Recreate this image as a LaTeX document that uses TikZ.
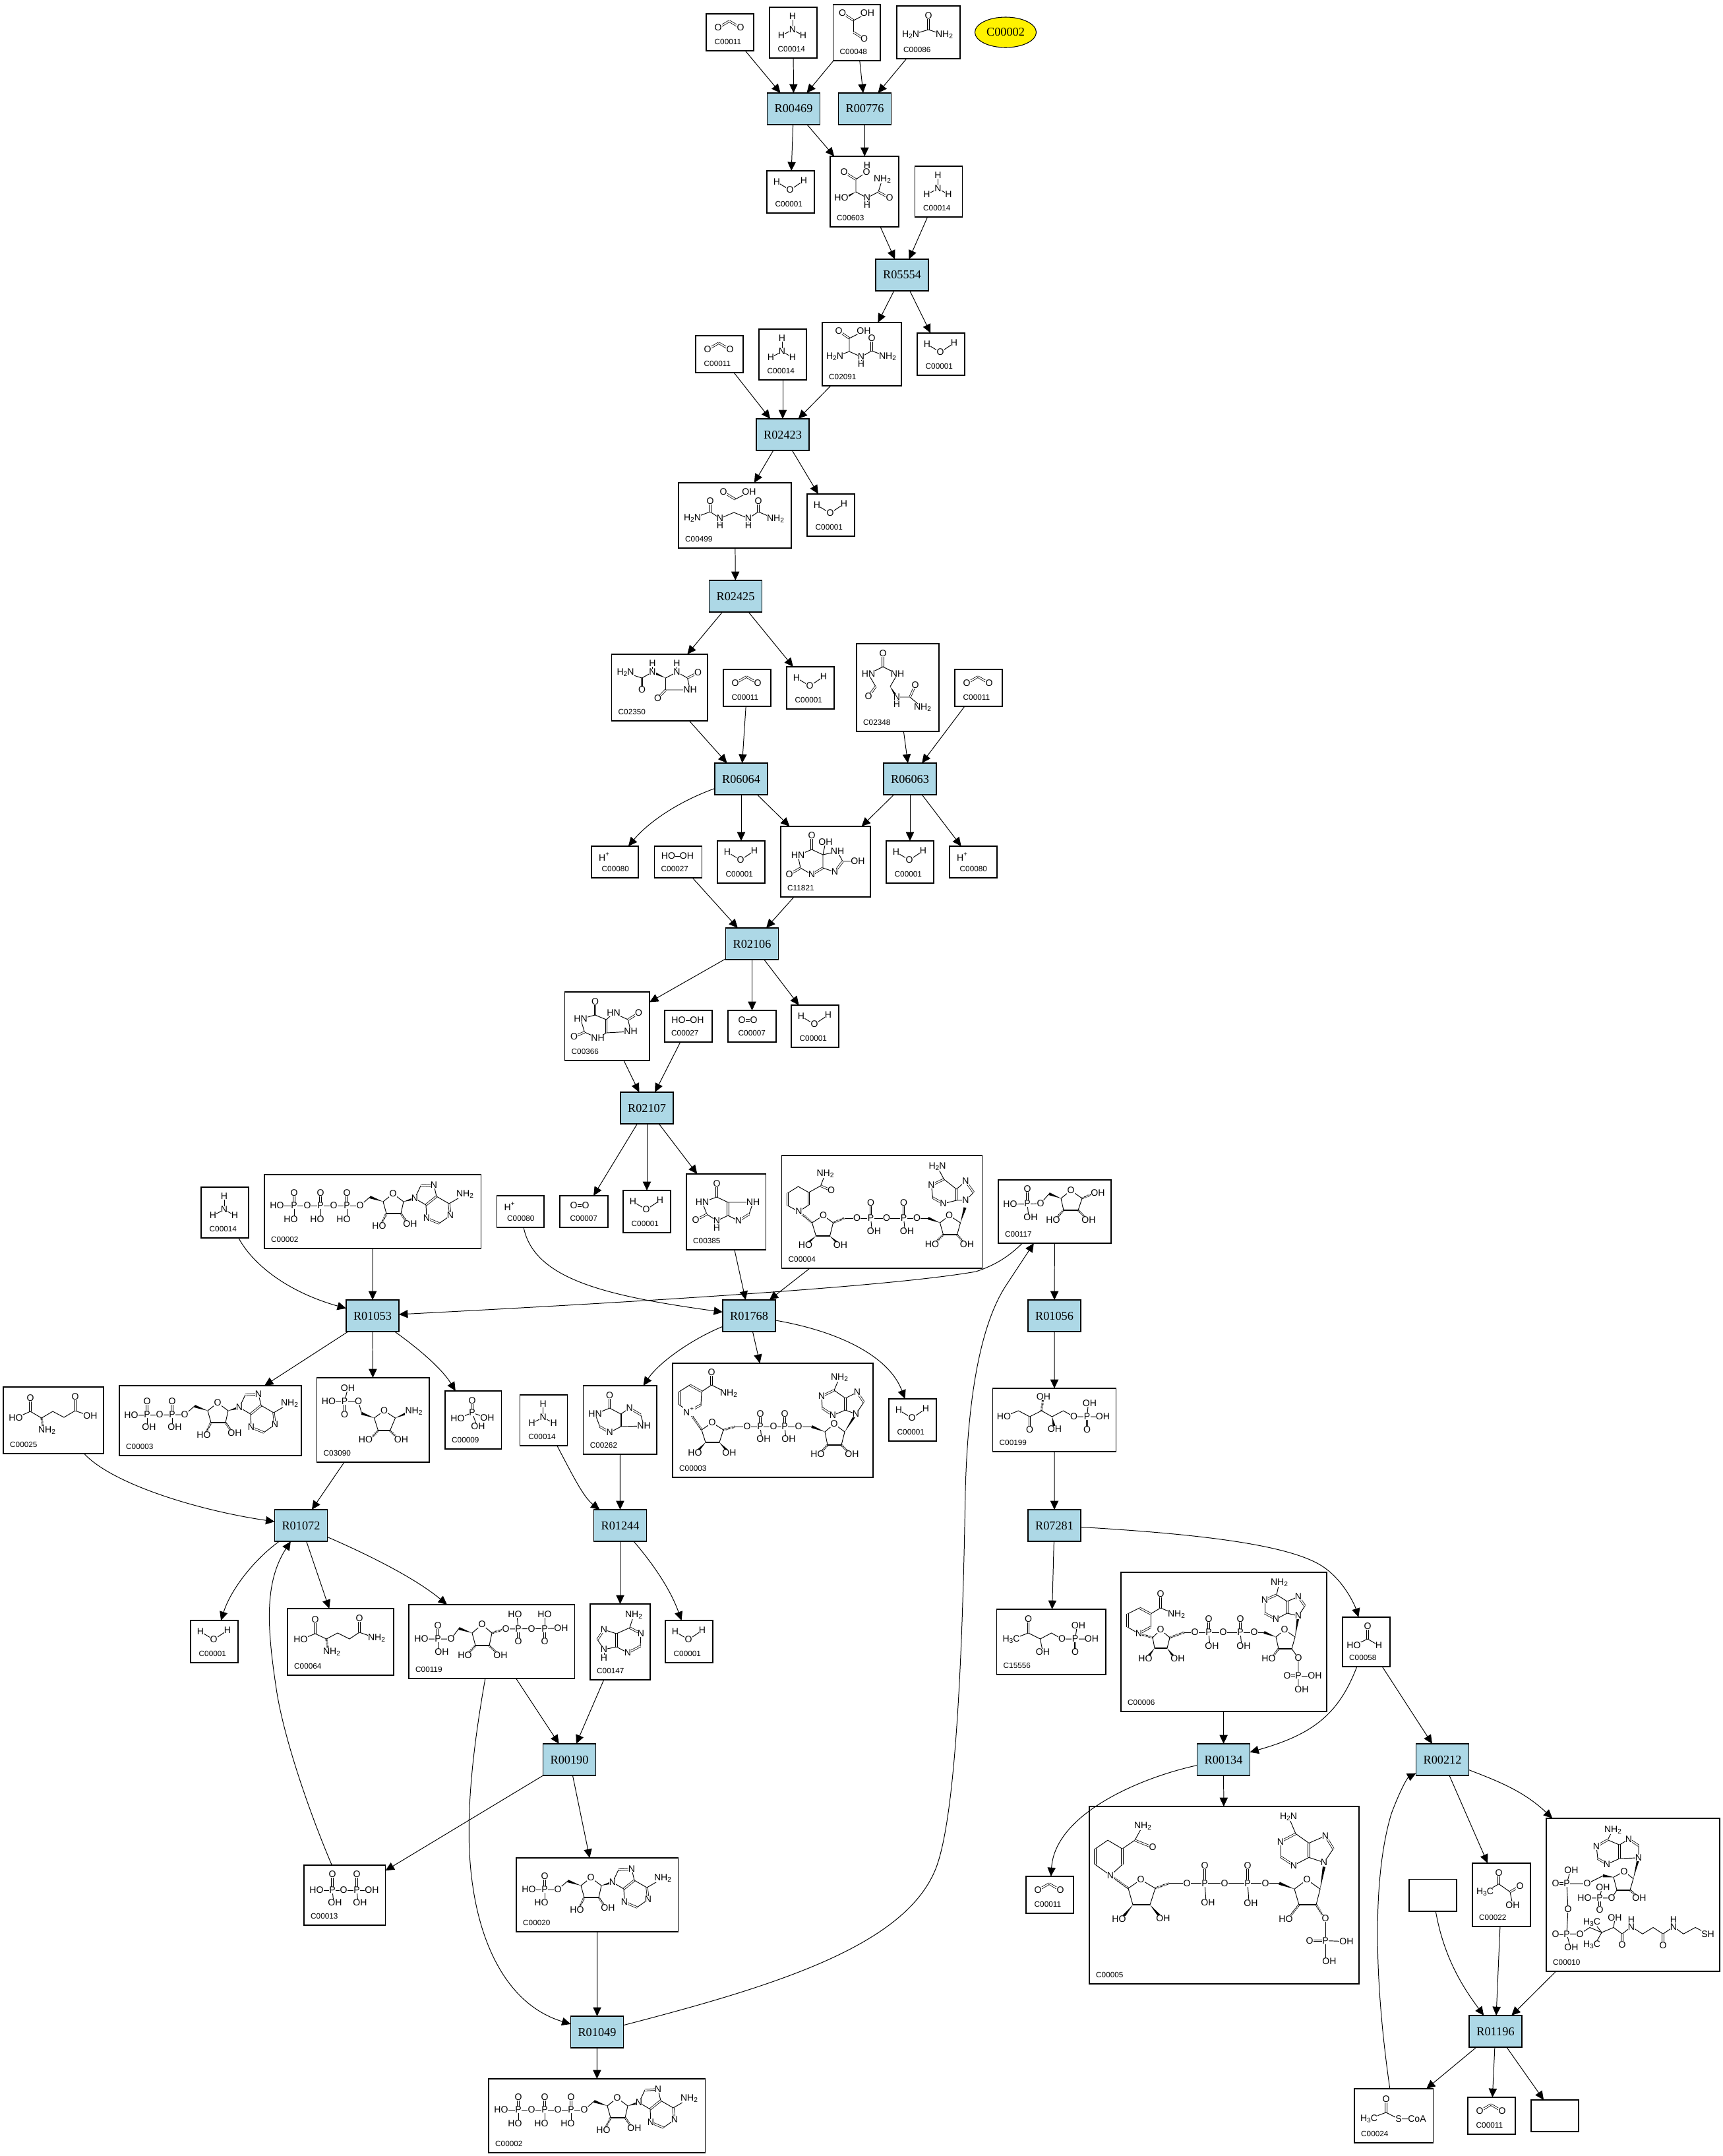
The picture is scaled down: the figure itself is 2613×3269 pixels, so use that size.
\documentclass[tikz,border=0pt]{standalone}
\usepackage{fontspec}
\setmainfont{Liberation Serif}
\newfontfamily\atomfamily{Liberation Sans}
\usetikzlibrary{arrows.meta, calc, shapes.geometric}

\newcommand{\atomsub}[1]{\raisebox{-0.6pt}{\fontsize{2.9}{3}\selectfont #1}}
\newcommand{\wdg}[2]{\fill (#1) -- ($(#2)!0.6pt!90:(#1)$) -- ($(#2)!0.6pt!-90:(#1)$) -- cycle;}
% box with its compound number
\newcommand{\compound}[7][9.5]{%
  \node[compound, minimum width={(#5-#3)*0.01cm}, minimum height={(#6-#4)*0.01cm}] (#2) at ({(#3+#5)/2},{(#4+#6)/2}) {};
  \node[cid] (#2-id) at ({#3+#1},{#6-10}) {#7};}
% structure drawing: name, origin, bonds, atoms
\newcommand{\mol}[5][]{%
  \begin{scope}[shift={#3}, #1]
    #4
    \foreach \ax/\ay/\atxt [count=\k] in {#5}
      \node[atom] (#2-\k) at (\ax,\ay) {\atxt};
  \end{scope}}
\newcommand{\waterbox}[3]{%
  \compound[12]{#1}{#2}{#3}{#2+72}{#3+64}{C00001}
  \mol{#1-m}{(#1.north west)}{\draw[bond] (15,17)--(35,29)--(56,15);}{15/17/H, 35/29/O, 56/15/H}}
\newcommand{\cotwobox}[4][56]{%
  \compound[12]{#2}{#3}{#4}{#3+72}{#4+#1}{C00011}
  \mol{#2-m}{(#2.north west)}{\draw[dbl] (18,21)--(35,11); \draw[dbl] (35,11)--(52,21);}{18/21/O, 52/21/O}}
\newcommand{\ammoniabox}[3]{%
  \compound[12]{#1}{#2}{#3}{#2+72}{#3+77}{C00014}
  \mol{#1-m}{(#1.north west)}{\draw[bond] (35,14)--(35,34); \draw[bond] (18,43)--(35,34)--(51,43);}{35/14/H, 35/34/N, 18/43/H, 51/43/H}}
\newcommand{\protonbox}[4]{%
  \compound[15]{#1}{#2}{#3}{#2+#4}{#3+48}{C00080}
  \mol{#1-m}{(#1.north west)}{}{20/16/H\textsuperscript{+}}}
\newcommand{\peroxidebox}[3]{%
  \compound{#1}{#2}{#3}{#2+72}{#3+48}{C00027}
  \mol{#1-m}{(#1.north west)}{\draw[bond] (21,15)--(49,15);}{21/15/HO, 49/15/OH}}
\newcommand{\oxygenbox}[3]{%
  \compound[15]{#1}{#2}{#3}{#2+73}{#3+48}{C00007}
  \mol{#1-m}{(#1.north west)}{\draw[dbl] (21,15)--(39,15);}{21/15/O, 39/15/O}}
% ribose and adenine, origin on the 5' oxygen
\newcommand{\adenosine}[2]{%
  \mol{#1}{#2}{
    \draw[bond] (0,0)--(15,-13);
    \wdg{35,-6}{15,-13}
    \draw[bond] (35,-6)--(50,-18)--(66,-6)--(62,12);
    \draw[bond] (40,12)--(35,-6);
    \draw[heavy] (40,12)--(62,12);
    \draw[hash] (40,12)--(32,28);
    \draw[hash] (62,12)--(72,26);
    \wdg{66,-6}{83,-11}
    \draw[bond] (83,-11)--(92,-30);
    \draw[dbl] (92,-30)--(112,-31);
    \draw[bond] (112,-31)--(116,-14);
    \draw[dbl] (116,-14)--(100,-1);
    \draw[bond] (100,-1)--(83,-11);
    \draw[bond] (116,-14)--(135,-3);
    \draw[dbl] (135,-3)--(137,15);
    \draw[bond] (137,15)--(120,27);
    \draw[dbl] (120,27)--(101,19);
    \draw[bond] (101,19)--(100,-1);
    \draw[bond] (135,-3)--(159,-17);
  }{0/0/O, 50/-18/O, 83/-11/N, 112/-31/N, 101/19/N, 137/15/N, 159/-17/NH\atomsub{2}, 29/31/HO, 76/28/OH}}
% triphosphate adenosine
\newcommand{\atpbox}[3]{%
  \compound{#1}{#2}{#3}{#2+328.5}{#3+112}{C00002}
  \mol{#1-p}{(#1.north west)}{
    \draw[bond] (19,47)--(145,47);
    \draw[dbl] (45,47)--(45,28); \draw[dbl] (85,47)--(85,28); \draw[dbl] (125,47)--(125,28);
    \draw[bond] (45,47)--(45,68); \draw[bond] (85,47)--(85,68); \draw[bond] (125,47)--(125,68);
  }{19/47/HO, 45/47/P, 65/47/O, 85/47/P, 105/47/O, 125/47/P, 45/28/O, 85/28/O, 125/28/O, 40/68/HO, 80/68/HO, 120/68/HO}
  \adenosine{#1-a}{($(#1.north west)+(145,47)$)}}

\begin{document}
\begin{tikzpicture}[x=0.01cm, y=-0.01cm,
    reaction/.style={draw, fill=lightblue, line width=0.32pt, minimum width=0.8cm, minimum height=0.48cm, inner sep=0pt, outer sep=0pt, font=\fontsize{5.2}{6}\selectfont},
    compound/.style={draw, line width=0.32pt, inner sep=0pt, outer sep=0pt},
    cid/.style={anchor=base west, inner sep=0pt, font=\atomfamily\fontsize{3.35}{4}\selectfont},
    atom/.style={fill=white, inner sep=0.1pt, font=\atomfamily\fontsize{4}{4.4}\selectfont},
    bond/.style={line width=0.27pt},
    heavy/.style={line width=0.6pt},
    dbl/.style={line width=0.22pt, double, double distance=0.5pt},
    hash/.style={line width=0.9pt, dash pattern=on 0.22pt off 0.32pt},
    link/.style={line width=0.28pt, -{Triangle[length=3.8pt, width=3.5pt]}}]
  \definecolor{lightblue}{HTML}{ADD8E6}
  \useasboundingbox (0,0) rectangle (2613,3269);

  % Reactions
  \node[reaction] (r00469) at (1203.5,165) {R00469};
  \node[reaction] (r00776) at (1311.5,165) {R00776};
  \node[reaction] (r05554) at (1368,417) {R05554};
  \node[reaction] (r02423) at (1187,659) {R02423};
  \node[reaction] (r02425) at (1115.5,904) {R02425};
  \node[reaction] (r06064) at (1124,1181) {R06064};
  \node[reaction] (r06063) at (1380,1181) {R06063};
  \node[reaction] (r02106) at (1140.5,1431) {R02106};
  \node[reaction] (r02107) at (981,1680) {R02107};
  \node[reaction] (r01053) at (565,1995) {R01053};
  \node[reaction] (r01768) at (1136,1995) {R01768};
  \node[reaction] (r01056) at (1599,1995) {R01056};
  \node[reaction] (r07281) at (1599,2313) {R07281};
  \node[reaction] (r01072) at (456.5,2313) {R01072};
  \node[reaction] (r01244) at (940.5,2313) {R01244};
  \node[reaction] (r00190) at (863.5,2668) {R00190};
  \node[reaction] (r00134) at (1855.5,2668) {R00134};
  \node[reaction] (r00212) at (2187.5,2668) {R00212};
  \node[reaction] (r01049) at (905.5,3081) {R01049};
  \node[reaction] (r01196) at (2268,3080) {R01196};

  % Start compound
  \node[draw, fill=yellow, ellipse, line width=0.3pt, minimum width=0.93cm, minimum height=0.46cm, inner sep=0pt, font=\fontsize{5.2}{6}\selectfont] (c00002top) at (1525,49) {C00002};

  % Small compounds that come back
  \waterbox{c00001a}{1163}{259}
  \waterbox{c00001b}{1391}{505}
  \waterbox{c00001c}{1224}{749}
  \waterbox{c00001d}{1193}{1011}
  \waterbox{c00001e}{1088}{1275}
  \waterbox{c00001f}{1344}{1275}
  \waterbox{c00001g}{1200}{1524}
  \waterbox{c00001h}{945}{1805}
  \waterbox{c00001i}{1348}{2121}
  \waterbox{c00001j}{1009}{2457}
  \waterbox{c00001k}{289}{2457}
  \cotwobox{c00011a}{1071}{21}
  \cotwobox{c00011b}{1055}{509}
  \cotwobox{c00011c}{1097}{1015}
  \cotwobox{c00011d}{1448}{1015}
  \cotwobox{c00011e}{1556}{2845}
  \cotwobox{c00011f}{2226}{3180}
  \ammoniabox{c00014a}{1167}{11}
  \ammoniabox{c00014b}{1387.5}{252}
  \ammoniabox{c00014c}{1151}{499}
  \ammoniabox{c00014d}{305}{1800}
  \ammoniabox{c00014e}{788.7}{2115}
  \protonbox{c00080a}{897}{1283}{71}
  \protonbox{c00080b}{1440}{1283}{72}
  \protonbox{c00080c}{753.5}{1813}{71.5}
  \peroxidebox{c00027a}{992.5}{1283}
  \peroxidebox{c00027b}{1008}{1532}
  \oxygenbox{c00007a}{1104}{1532}
  \oxygenbox{c00007b}{849}{1813}

  % Glyoxylate, urea
  \compound{c00048}{1263.5}{7}{1335}{92}{C00048}
  \mol{c00048-m}{(c00048.north west)}{
    \draw[dbl] (14,13)--(31,24);
    \draw[bond] (52,13)--(31,24)--(31,42);
    \draw[dbl] (31,42)--(47,52);
  }{14/13/O, 52/13/OH, 47/52/O}
  \compound{c00086}{1360}{9}{1456}{89}{C00086}
  \mol{c00086-m}{(c00086.north west)}{
    \draw[dbl] (48,15)--(48,36);
    \draw[bond] (21,44)--(48,36)--(72,44);
  }{48/15/O, 21/44/H\atomsub{2}N, 72/44/NH\atomsub{2}}

  % Ureidoglycolate
  \compound{c00603}{1259}{237}{1363}{344}{C00603}
  \mol{c00603-m}{(c00603.north west)}{
    \draw[bond] (56,14)--(55,24)--(39,35)--(39,54)--(56,63)--(73,54)--(79,35);
    \draw[dbl] (21,24)--(39,35);
    \draw[dbl] (73,54)--(90,63);
    \draw[bond] (56,63)--(56,74);
    \wdg{39,54}{22,63}
  }{56/14/H, 55/24/O, 21/24/O, 79/35/NH\atomsub{2}, 17/63/HO, 56/63/N, 56/74/H, 90/63/O}

  % Ureidoglycine
  \compound{c02091}{1247}{489}{1367}{585}{C02091}
  \mol{c02091-m}{(c02091.north west)}{
    \draw[dbl] (25,13)--(41,24);
    \draw[bond] (63,13)--(41,24)--(41,44)--(19,52);
    \draw[bond] (41,44)--(59,52)--(75,43)--(99,52);
    \draw[bond] (59,52)--(59,63);
    \draw[dbl] (75,43)--(75,24);
  }{25/13/O, 63/13/OH, 19/52/H\atomsub{2}N, 59/52/N, 59/63/H, 75/24/O, 99/52/NH\atomsub{2}}

  % Allantoate
  \compound{c00499}{1029}{732}{1200}{831}{C00499}
  \mol{c00499-m}{(c00499.north west)}{
    \draw[dbl] (68,14)--(86,25);
    \draw[bond] (86,25)--(107,14);
    \draw[bond] (21,54)--(48,44)--(63,54)--(84,45)--(106,54)--(121,44)--(147,55);
    \draw[dbl] (48,44)--(48,28);
    \draw[dbl] (121,44)--(121,28);
    \draw[bond] (63,54)--(63,65);
    \draw[bond] (106,54)--(106,65);
  }{68/14/O, 107/14/OH, 48/28/O, 121/28/O, 21/54/H\atomsub{2}N, 63/54/N, 63/65/H, 106/54/N, 106/65/H, 147/55/NH\atomsub{2}}

  % Allantoin
  \compound{c02350}{927.5}{992}{1073}{1093}{C02350}
  \mol{c02350-m}{(c02350.north west)}{
    \draw[bond] (21,28)--(46,36)--(62,27);
    \draw[dbl] (46,36)--(46,54);
    \draw[bond] (62,27)--(62,14);
    \wdg{82,36}{62,27}
    \draw[bond] (82,36)--(99,27)--(115,36)--(119,54)--(82,54)--cycle;
    \draw[bond] (99,27)--(99,14);
    \draw[dbl] (115,36)--(131,28);
    \draw[dbl] (82,54)--(70,67);
  }{21/28/H\atomsub{2}N, 46/54/O, 62/27/N, 62/14/H, 99/27/N, 99/14/H, 131/28/O, 119/54/NH, 70/67/O}

  \compound{c02348}{1299}{976}{1424}{1109}{C02348}
  \mol{c02348-m}{(c02348.north west)}{
    \draw[dbl] (40,15)--(40,35);
    \draw[bond] (29,65)--(18,46)--(40,35)--(62,46)--(51,65);
    \draw[dbl] (29,65)--(18,80);
    \wdg{51,65}{61,81}
    \draw[bond] (61,81)--(61,92);
    \draw[bond] (61,81)--(81,81)--(100,97);
    \draw[dbl] (81,81)--(89,63);
  }{40/15/O, 18/46/HN, 62/46/NH, 18/80/O, 61/81/N, 61/92/H, 89/63/O, 100/97/NH\atomsub{2}}

  % Hydroxyisourate region
  \compound{c11821}{1184}{1253}{1320}{1360}{C11821}
  \mol{c11821-m}{(c11821.north west)}{
    \draw[dbl] (47,14)--(47,35);
    \draw[bond] (47,35)--(26,44)--(30,63)--(47,73);
    \draw[dbl] (47,73)--(64,63);
    \draw[bond] (64,63)--(64,43)--(47,35);
    \draw[dbl] (30,63)--(13,73);
    \draw[bond] (64,43)--(68,24);
    \draw[bond] (64,43)--(86,38)--(94,53)--(117,53);
    \draw[dbl] (94,53)--(82,69);
    \draw[bond] (82,69)--(64,63);
  }{47/14/O, 26/44/HN, 13/73/O, 47/73/N, 68/24/OH, 86/38/NH, 117/53/OH, 82/69/N}

  \compound{c00366}{856.5}{1504}{985}{1608}{C00366}
  \mol{c00366-m}{(c00366.north west)}{
    \draw[dbl] (46,15)--(46,35);
    \draw[bond] (46,35)--(24,41)--(30,61)--(50,70)--(63,62);
    \draw[dbl] (63,62)--(63,42);
    \draw[bond] (63,42)--(46,35);
    \draw[dbl] (30,61)--(14,68);
    \draw[bond] (63,42)--(74,32)--(96,42)--(100,60)--(63,62);
    \draw[dbl] (96,42)--(112,32);
  }{46/15/O, 24/41/HN, 14/68/O, 50/70/NH, 74/32/HN, 112/32/O, 100/60/NH}

  \compound{c00385}{1041}{1780}{1161.4}{1895}{C00385}
  \mol{c00385-m}{(c00385.north west)}{
    \draw[dbl] (46,15)--(46,35);
    \draw[bond] (46,35)--(24,43)--(31,61)--(46,71)--(63,63);
    \draw[dbl] (63,63)--(63,43);
    \draw[bond] (63,43)--(46,35);
    \draw[dbl] (31,61)--(14,70);
    \draw[bond] (46,71)--(46,82);
    \draw[bond] (63,43)--(101,43)--(95,61);
    \draw[dbl] (95,61)--(79,71);
    \draw[bond] (79,71)--(63,63);
  }{46/15/O, 24/43/HN, 14/70/O, 46/71/N, 46/82/H, 101/43/NH, 79/71/N}

  % ATP
  \atpbox{c00002a}{401}{1781}
  \atpbox{c00002b}{741}{3152}

  % NADH
  \compound{c00004}{1185.5}{1752}{1489.5}{1923}{C00004}
  \mol{c00004-m}{(c00004.north west)}{
    \draw[bond] (66,28)--(59,46)--(41,56)--(25,47)--(9,57);
    \draw[dbl] (59,46)--(75,53);
    \draw[dbl] (9,57)--(9,76);
    \draw[bond] (9,76)--(26,85)--(41,75);
    \draw[dbl] (41,75)--(41,56);
    \draw[hash] (26,85)--(46,102);
    \draw[bond] (46,102)--(63,91)--(78,102)--(73,122);
    \draw[bond] (52,122)--(46,102);
    \draw[heavy] (52,122)--(73,122);
    \wdg{52,122}{38,134}
    \wdg{73,122}{86,134}
    \draw[hash] (78,102)--(95,95);
    \draw[bond] (95,95)--(222,95);
    \draw[dbl] (135,95)--(135,72);
    \draw[dbl] (185,95)--(185,72);
    \draw[bond] (135,95)--(137,115);
    \draw[bond] (185,95)--(187,115);
    \wdg{240,102}{222,95}
    \draw[bond] (240,102)--(254,91)--(271,102)--(266,120);
    \draw[bond] (245,120)--(240,102);
    \draw[heavy] (245,120)--(266,120);
    \draw[hash] (245,120)--(232,133);
    \draw[hash] (266,120)--(277,133);
    \wdg{271,102}{278,79}
    \draw[bond] (279,68)--(291,56);
    \draw[dbl] (291,56)--(279,39);
    \draw[bond] (279,39)--(265,51);
    \draw[dbl] (265,51)--(265,68);
    \draw[bond] (279,68)--(265,68)--(245,73);
    \draw[dbl] (245,73)--(229,64);
    \draw[bond] (229,64)--(227,45);
    \draw[dbl] (227,45)--(246,36);
    \draw[bond] (246,36)--(265,51);
    \draw[bond] (246,36)--(236,17);
  }{66/28/NH\atomsub{2}, 75/53/O, 26/85/N, 63/91/O, 36/136/HO, 89/136/OH, 114/95/O, 135/95/P, 135/72/O, 140/115/OH, 159/95/O, 185/95/P, 185/72/O, 190/115/OH, 205/95/O, 254/91/O, 228/135/HO, 281/135/OH, 279/68/N, 279/39/N, 245/73/N, 227/45/N, 236/17/H\atomsub{2}N}

  % Ribose 5-phosphate
  \compound{c00117}{1514}{1789}{1685}{1885}{C00117}
  \mol{c00117-m}{(c00117.north west)}{
    \draw[bond] (18,37)--(64,36)--(77,21);
    \draw[dbl] (44,36)--(44,14);
    \draw[bond] (44,36)--(46,57);
    \wdg{95,28}{77,21}
    \draw[bond] (95,28)--(110,16)--(127,28)--(121,46);
    \draw[bond] (99,46)--(95,28);
    \draw[heavy] (99,46)--(121,46);
    \draw[hash] (99,46)--(88,58);
    \draw[hash] (121,46)--(133,58);
    \draw[hash] (127,28)--(141,22);
  }{44/14/O, 18/37/HO, 44/36/P, 49/57/OH, 64/36/O, 110/16/O, 83/61/HO, 137/61/OH, 151/20/OH}

  % Glutamate and glutamine
  \compound{c00025}{5}{2103}{157}{2204}{C00025}
  \mol{c00025-m}{(c00025.north west)}{
    \draw[dbl] (41,17)--(41,37);
    \draw[bond] (19,47)--(41,37)--(58,47)--(75,37)--(92,46)--(109,36)--(132,44);
    \draw[dbl] (109,36)--(109,15);
    \draw[hash] (58,47)--(60,60);
  }{41/17/O, 19/47/HO, 66/66/NH\atomsub{2}, 109/15/O, 132/44/OH}
  \compound{c00064}{436}{2439}{597}{2540}{C00064}
  \mol{c00064-m}{(c00064.north west)}{
    \draw[dbl] (42,17)--(42,38);
    \draw[bond] (20,47)--(42,38)--(59,46)--(76,37)--(94,46)--(109,36)--(135,45);
    \draw[dbl] (109,36)--(109,15);
    \draw[hash] (59,46)--(61,60);
  }{42/17/O, 20/47/HO, 67/66/NH\atomsub{2}, 109/15/O, 135/45/NH\atomsub{2}}

  % ADP
  \compound{c00003s}{181}{2101}{457}{2207}{C00003}
  \mol{c00003s-p}{(c00003s.north west)}{
    \draw[bond] (18,45)--(99,44);
    \draw[dbl] (42,44)--(42,24);
    \draw[dbl] (80,44)--(80,24);
    \draw[bond] (42,44)--(42,63);
    \draw[bond] (80,44)--(80,63);
  }{18/45/HO, 42/44/P, 61/44/O, 80/44/P, 42/24/O, 80/24/O, 45/63/OH, 84/63/OH}
  \adenosine{c00003s-a}{($(c00003s.north west)+(99,44)$)}

  % Aminoimidazole type ribotide
  \compound{c03090}{480.5}{2089}{651}{2217}{C03090}
  \mol{c03090-m}{(c03090.north west)}{
    \draw[bond] (47,16)--(42,36);
    \draw[bond] (18,36)--(63,36)--(68,54);
    \draw[dbl] (42,36)--(42,56);
    \wdg{87,61}{68,54}
    \draw[bond] (87,61)--(102,50)--(119,61)--(111,80);
    \draw[bond] (93,80)--(87,61);
    \draw[heavy] (93,80)--(111,80);
    \draw[hash] (93,80)--(82,92);
    \draw[hash] (111,80)--(122,92);
    \wdg{119,61}{138,53}
  }{47/16/OH, 42/36/P, 18/36/HO, 42/56/O, 63/36/O, 102/50/O, 74/94/HO, 128/94/OH, 147/51/NH\atomsub{2}}

  \compound{c00009}{675}{2109}{760.6}{2197}{C00009}
  \mol{c00009-m}{(c00009.north west)}{
    \draw[dbl] (41,15)--(41,33);
    \draw[bond] (19,42)--(41,33)--(64,41);
    \draw[bond] (41,33)--(48,52);
  }{41/15/O, 41/33/P, 19/42/HO, 64/41/OH, 50/54/OH}

  \compound{c00262}{884.6}{2101}{996}{2205}{C00262}
  \mol{c00262-m}{(c00262.north west)}{
    \draw[dbl] (40,15)--(40,34);
    \draw[bond] (40,34)--(18,43)--(25,62);
    \draw[dbl] (25,62)--(40,71);
    \draw[bond] (40,71)--(57,62);
    \draw[dbl] (57,62)--(57,43);
    \draw[bond] (57,43)--(40,34);
    \draw[bond] (57,43)--(70,34);
    \draw[dbl] (70,34)--(87,44);
    \draw[bond] (87,44)--(92,61)--(57,62);
  }{40/15/O, 18/43/HN, 40/71/N, 70/34/N, 92/61/NH}

  % NAD+
  \compound{c00003b}{1020}{2067}{1324}{2240}{C00003}
  \mol{c00003b-m}{(c00003b.north west)}{
    \draw[dbl] (59,14)--(59,33);
    \draw[bond] (85,46)--(59,33)--(44,43);
    \draw[dbl] (44,43)--(26,33);
    \draw[bond] (26,33)--(10,43);
    \draw[dbl] (10,43)--(10,63);
    \draw[bond] (10,63)--(25,73);
    \draw[dbl] (25,73)--(43,63);
    \draw[bond] (43,63)--(44,43);
    \draw[hash] (25,73)--(44,101);
    \draw[bond] (44,101)--(60,90)--(77,101)--(71,120);
    \draw[bond] (50,120)--(44,101);
    \draw[heavy] (50,120)--(71,120);
    \wdg{50,120}{38,133}
    \wdg{71,120}{83,133}
    \draw[hash] (77,101)--(95,96);
    \draw[bond] (95,96)--(211,96);
    \draw[dbl] (133,96)--(133,77);
    \draw[dbl] (170,96)--(170,77);
    \draw[bond] (133,96)--(135,115);
    \draw[bond] (170,96)--(172,115);
    \wdg{231,104}{211,96}
    \draw[bond] (231,104)--(245,92)--(261,104)--(256,124);
    \draw[bond] (235,124)--(231,104);
    \draw[heavy] (235,124)--(256,124);
    \draw[hash] (235,124)--(224,136);
    \draw[hash] (256,124)--(268,136);
    \wdg{261,104}{278,77}
    \draw[bond] (278,77)--(290,59);
    \draw[dbl] (290,59)--(280,44);
    \draw[bond] (280,44)--(262,53);
    \draw[dbl] (262,53)--(262,71);
    \draw[bond] (278,77)--(262,71)--(243,79);
    \draw[dbl] (243,79)--(227,68);
    \draw[bond] (227,68)--(226,50);
    \draw[dbl] (226,50)--(245,41);
    \draw[bond] (245,41)--(262,53);
    \draw[bond] (245,41)--(253,22);
  }{59/14/O, 85/46/NH\atomsub{2}, 25/73/N\textsuperscript{+}, 60/90/O, 34/136/HO, 86/136/OH, 113/96/O, 133/96/P, 133/77/O, 138/115/OH, 153/96/O, 170/96/P, 170/77/O, 176/115/OH, 191/96/O, 245/92/O, 220/138/HO, 272/138/OH, 278/77/N, 280/44/N, 243/79/N, 226/50/N, 253/22/NH\atomsub{2}}

  % Ribulose 5-phosphate
  \compound{c00199}{1505.5}{2105}{1692.6}{2201}{C00199}
  \mol{c00199-m}{(c00199.north west)}{
    \draw[bond] (17,43)--(39,34)--(56,43)--(74,34)--(90,43)--(107,34)--(123,43)--(167,43);
    \draw[dbl] (56,43)--(56,63);
    \draw[hash] (74,34)--(76,18);
    \wdg{90,43}{93,57}
    \draw[bond] (143,43)--(145,23);
    \draw[dbl] (143,43)--(143,63);
  }{17/43/HO, 77/13/OH, 56/63/O, 94/62/OH, 123/43/O, 143/43/P, 147/23/OH, 167/43/OH, 143/63/O}

  % PRPP and relatives
  \compound{c00119}{620}{2433}{871.6}{2545}{C00119}
  \mol{c00119-m}{(c00119.north west)}{
    \draw[dbl] (44,32)--(44,52);
    \draw[bond] (19,52)--(64,52)--(76,36);
    \draw[bond] (44,52)--(46,72);
    \wdg{96,43}{76,36}
    \draw[bond] (96,43)--(111,30)--(126,43)--(122,62);
    \draw[bond] (101,62)--(96,43);
    \draw[heavy] (101,62)--(122,62);
    \draw[hash] (101,62)--(90,74);
    \draw[hash] (122,62)--(134,74);
    \draw[hash] (126,43)--(142,38);
    \draw[bond] (147,37)--(231,36);
    \draw[bond] (166,37)--(164,15);
    \draw[bond] (206,37)--(206,15);
    \draw[dbl] (166,37)--(166,56);
    \draw[dbl] (206,37)--(206,56);
  }{44/32/O, 19/52/HO, 44/52/P, 50/72/OH, 64/52/O, 111/30/O, 85/77/HO, 139/77/OH, 147/37/O, 166/37/P, 161/15/HO, 166/56/O, 186/37/O, 206/37/P, 206/15/HO, 206/56/O, 231/36/OH}

  % Adenine
  \compound{c00147}{895}{2432}{986}{2547}{C00147}
  \mol{c00147-m}{(c00147.north west)}{
    \draw[bond] (66,17)--(60,36);
    \draw[dbl] (60,36)--(77,45);
    \draw[bond] (77,45)--(76,64);
    \draw[dbl] (76,64)--(57,74);
    \draw[bond] (57,74)--(40,65);
    \draw[dbl] (40,65)--(40,45);
    \draw[bond] (40,45)--(60,36);
    \draw[bond] (40,45)--(21,39);
    \draw[dbl] (21,39)--(11,54);
    \draw[bond] (11,54)--(21,69)--(40,65);
    \draw[bond] (21,69)--(21,82);
  }{66/17/NH\atomsub{2}, 77/45/N, 57/74/N, 21/39/N, 21/69/N, 21/82/H}

  % Butanone phosphate
  \compound{c15556}{1511.5}{2440}{1677}{2539}{C15556}
  \mol{c15556-m}{(c15556.north west)}{
    \draw[bond] (22,46)--(48,36)--(66,45)--(83,36)--(99,45)--(144,45);
    \draw[dbl] (48,36)--(48,15);
    \draw[bond] (66,45)--(70,65);
    \draw[bond] (119,45)--(122,25);
    \draw[dbl] (119,45)--(119,65);
  }{22/46/H\atomsub{3}C, 48/15/O, 70/65/OH, 99/45/O, 119/45/P, 124/25/OH, 144/45/OH, 119/65/O}

  % NADP+
  \compound{c00006}{1700}{2384}{2012}{2595}{C00006}
  \mol{c00006-m}{(c00006.north west)}{
    \draw[dbl] (60,33)--(60,54);
    \draw[bond] (84,64)--(60,54)--(45,63);
    \draw[dbl] (45,63)--(28,54);
    \draw[bond] (28,54)--(10,63);
    \draw[dbl] (10,63)--(10,83);
    \draw[bond] (10,83)--(27,93);
    \draw[dbl] (27,93)--(45,83);
    \draw[bond] (45,83)--(45,63);
    \draw[hash] (27,93)--(48,99);
    \draw[bond] (48,99)--(60,87)--(74,99)--(70,115);
    \draw[bond] (51,115)--(48,99);
    \draw[heavy] (51,115)--(70,115);
    \wdg{51,115}{41,128}
    \wdg{70,115}{80,128}
    \draw[hash] (74,99)--(96,91);
    \draw[bond] (96,91)--(217,91);
    \draw[dbl] (133,91)--(133,71);
    \draw[dbl] (181,91)--(181,71);
    \draw[bond] (133,91)--(135,112);
    \draw[bond] (181,91)--(183,112);
    \wdg{235,98}{217,91}
    \draw[bond] (235,98)--(248,87)--(264,98)--(259,116);
    \draw[bond] (239,116)--(235,98);
    \draw[heavy] (239,116)--(259,116);
    \draw[hash] (239,116)--(230,128);
    \draw[bond] (259,116)--(269,130)--(269,178);
    \draw[dbl] (269,157)--(252,157);
    \draw[bond] (269,157)--(294,157);
    \wdg{264,98}{269,66}
    \draw[bond] (269,66)--(279,51);
    \draw[dbl] (279,51)--(269,37);
    \draw[bond] (269,37)--(252,44);
    \draw[dbl] (252,44)--(252,62);
    \draw[bond] (269,66)--(252,62)--(235,71);
    \draw[dbl] (235,71)--(218,62);
    \draw[bond] (218,62)--(218,42);
    \draw[dbl] (218,42)--(236,34);
    \draw[bond] (236,34)--(252,44);
    \draw[bond] (236,34)--(240,16);
  }{60/33/O, 84/64/NH\atomsub{2}, 27/93/N, 60/87/O, 37/131/HO, 86/131/OH, 112/91/O, 133/91/P, 133/71/O, 138/112/OH, 155/91/O, 181/91/P, 181/71/O, 186/112/OH, 202/91/O, 248/87/O, 224/131/HO, 269/130/O, 269/157/P, 252/157/O, 294/157/OH, 274/178/OH, 269/66/N, 269/37/N, 235/71/N, 218/42/N, 240/16/NH\atomsub{2}}

  % Formate
  \compound{c00058}{2036}{2452}{2108}{2527}{C00058}
  \mol{c00058-m}{(c00058.north west)}{
    \draw[dbl] (38,14)--(38,33);
    \draw[bond] (17,43)--(38,33)--(55,43);
  }{38/14/O, 17/43/HO, 55/43/H}

  % AMP
  \compound{c00020}{783}{2817}{1028.6}{2929}{C00020}
  \mol{c00020-p}{(c00020.north west)}{
    \draw[bond] (19,48)--(63,48);
    \draw[dbl] (43,48)--(43,28);
    \draw[bond] (43,48)--(43,66);
  }{19/48/HO, 43/48/P, 43/28/O, 38/68/HO}
  \adenosine{c00020-a}{($(c00020.north west)+(63,48)$)}

  % Diphosphate
  \compound{c00013}{461}{2828}{584.5}{2919}{C00013}
  \mol{c00013-m}{(c00013.north west)}{
    \draw[bond] (19,38)--(103,38);
    \draw[dbl] (43,38)--(43,14);
    \draw[dbl] (80,38)--(80,14);
    \draw[bond] (43,38)--(45,57);
    \draw[bond] (80,38)--(82,57);
  }{43/14/O, 80/14/O, 19/38/HO, 43/38/P, 60/38/O, 80/38/P, 103/38/OH, 47/57/OH, 85/57/OH}

  % NADPH
  \compound{c00005}{1652}{2739}{2061}{3008}{C00005}
  \mol[yscale=1.0885]{c00005-m}{(c00005.north west)}{
    \draw[bond] (81,27)--(69,47)--(50,59)--(28,47)--(9,59);
    \draw[dbl] (69,47)--(96,57);
    \draw[dbl] (9,59)--(9,81);
    \draw[bond] (9,81)--(32,96)--(50,81);
    \draw[dbl] (50,81)--(50,59);
    \draw[hash] (32,96)--(59,114);
    \draw[bond] (59,114)--(78,102)--(100,114)--(92,137);
    \draw[bond] (66,137)--(59,114);
    \draw[heavy] (66,137)--(92,137);
    \wdg{66,137}{52,153}
    \wdg{92,137}{106,152}
    \draw[hash] (100,114)--(121,107);
    \draw[bond] (121,107)--(288,107);
    \draw[dbl] (175,107)--(175,82);
    \draw[dbl] (240,107)--(240,82);
    \draw[bond] (175,107)--(177,132);
    \draw[bond] (240,107)--(242,132);
    \wdg{311,115}{288,107}
    \draw[bond] (311,115)--(330,102)--(350,115)--(344,137);
    \draw[bond] (318,137)--(311,115);
    \draw[heavy] (318,137)--(344,137);
    \draw[hash] (318,137)--(305,152);
    \draw[hash] (344,137)--(354,152);
    \draw[bond] (358,156)--(358,216);
    \draw[dbl] (358,187)--(334,187);
    \draw[bond] (358,187)--(390,188);
    \wdg{350,115}{356,84}
    \draw[bond] (356,78)--(370,59);
    \draw[dbl] (370,59)--(358,41);
    \draw[bond] (358,41)--(333,51);
    \draw[dbl] (333,51)--(333,71);
    \draw[bond] (356,78)--(333,71)--(310,82);
    \draw[dbl] (310,82)--(290,70);
    \draw[bond] (290,70)--(290,49);
    \draw[dbl] (290,49)--(313,38);
    \draw[bond] (313,38)--(333,51);
    \draw[bond] (313,38)--(302,14);
  }{81/27/NH\atomsub{2}, 96/57/O, 32/96/N, 78/102/O, 45/157/HO, 112/156/OH, 148/107/O, 175/107/P, 175/82/O, 180/134/OH, 205/107/O, 240/107/P, 240/82/O, 245/135/OH, 267/107/O, 330/102/O, 298/157/HO, 358/156/O, 358/187/P, 334/187/O, 390/188/OH, 364/216/OH, 356/78/N, 358/41/N, 310/82/N, 290/49/N, 302/14/H\atomsub{2}N}

  % Empty boxes
  \node[compound, minimum width=0.72cm, minimum height=0.485cm] (empty1) at (2173,2873.75) {};
  \node[compound, minimum width=0.72cm, minimum height=0.48cm] (empty2) at (2358,3208) {};

  % Pyruvate
  \compound{c00022}{2233}{2825}{2321}{2921}{C00022}
  \mol[yscale=1.0885]{c00022-m}{(c00022.north west)}{
    \draw[dbl] (40,13)--(40,29);
    \draw[bond] (19,40)--(40,29)--(57,40)--(61,58);
    \draw[dbl] (57,40)--(72,32);
  }{40/13/O, 19/40/H\atomsub{3}C, 72/32/O, 61/58/OH}

  % Coenzyme A
  \compound{c00010}{2345}{2757}{2608}{2989}{C00010}
  \mol[yscale=1.0885]{c00010-m}{(c00010.north west)}{
    \draw[bond] (101,16)--(93,30);
    \draw[dbl] (93,30)--(76,39);
    \draw[bond] (76,39)--(78,56);
    \draw[dbl] (78,56)--(92,64);
    \draw[bond] (92,64)--(111,56);
    \draw[dbl] (111,56)--(111,37);
    \draw[bond] (111,37)--(93,30);
    \draw[bond] (111,37)--(125,29);
    \draw[dbl] (125,29)--(140,38);
    \draw[bond] (140,38)--(140,55)--(111,56);
    \wdg{132,84}{140,55}
    \wdg{102,82}{86,80}
    \draw[bond] (102,82)--(118,74)--(132,84)--(127,100);
    \draw[bond] (107,100)--(102,82);
    \draw[heavy] (107,100)--(127,100);
    \draw[hash] (127,100)--(137,108);
    \draw[bond] (107,100)--(99,111)--(58,111);
    \draw[bond] (81,111)--(84,98);
    \draw[dbl] (81,111)--(81,127);
    \draw[bond] (86,80)--(62,91)--(31,91);
    \draw[dbl] (31,91)--(14,91);
    \draw[bond] (31,91)--(36,74);
    \draw[bond] (31,91)--(33,126)--(31,161);
    \draw[dbl] (31,161)--(14,161);
    \draw[bond] (31,161)--(36,178);
    \draw[bond] (31,161)--(51,161)--(66,152)--(84,159)--(102,152)--(115,161)--(129,151)--(146,161)--(162,152)--(177,161)--(193,151)--(208,161)--(226,152)--(245,161);
    \draw[bond] (84,159)--(74,147);
    \draw[bond] (84,159)--(76,172);
    \draw[bond] (102,152)--(104,140);
    \draw[dbl] (115,161)--(115,176);
    \draw[dbl] (177,161)--(177,177);
    \draw[bond] (129,151)--(129,141);
    \draw[bond] (193,151)--(193,141);
  }{101/16/NH\atomsub{2}, 76/39/N, 92/64/N, 125/29/N, 140/55/N, 118/74/O, 141/111/OH, 99/111/O, 81/111/P, 58/111/HO, 86/96/OH, 81/127/O, 62/91/O, 31/91/P, 14/91/O, 38/72/OH, 33/126/O, 31/161/P, 14/161/O, 38/180/OH, 51/161/O, 69/145/H\atomsub{3}C, 69/176/H\atomsub{3}C, 104/138/OH, 115/176/O, 129/151/N, 129/141/H, 177/177/O, 193/151/N, 193/141/H, 245/161/SH}

  % Acetyl-CoA
  \compound{c00024}{2054}{3167}{2173.5}{3249}{C00024}
  \mol[yscale=1.0885]{c00024-m}{(c00024.north west)}{
    \draw[dbl] (48,14)--(48,33);
    \draw[bond] (22,42)--(48,33)--(67,42)--(95,42);
  }{48/14/O, 22/42/H\atomsub{3}C, 67/42/S, 95/42/CoA}

  % Straight links
  \draw[link] (c00011a) -- (r00469);
  \draw[link] (c00014a) -- (r00469);
  \draw[link] (c00048) -- (r00469);
  \draw[link] (c00048) -- (r00776);
  \draw[link] (c00086) -- (r00776);
  \draw[link] (r00469) -- (c00001a);
  \draw[link] (r00469) -- (c00603);
  \draw[link] (r00776) -- (c00603);
  \draw[link] (c00603) -- (r05554);
  \draw[link] (c00014b) -- (r05554);
  \draw[link] (r05554) -- (c02091);
  \draw[link] (r05554) -- (c00001b);
  \draw[link] (c00011b) -- (r02423);
  \draw[link] (c00014c) -- (r02423);
  \draw[link] (c02091) -- (r02423);
  \draw[link] (r02423) -- (c00499);
  \draw[link] (r02423) -- (c00001c);
  \draw[link] (c00499) -- (r02425);
  \draw[link] (r02425) -- (c02350);
  \draw[link] (r02425) -- (c00001d);
  \draw[link] (c02350) -- (r06064);
  \draw[link] (c00011c) -- (r06064);
  \draw[link] (c02348) -- (r06063);
  \draw[link] (c00011d) -- (r06063);
  \draw[link] (r06064) -- (c00001e);
  \draw[link] (r06064) -- (c11821);
  \draw[link] (r06063) -- (c11821);
  \draw[link] (r06063) -- (c00001f);
  \draw[link] (r06063) -- (c00080b);
  \draw[link] (c00027a) -- (r02106);
  \draw[link] (c11821) -- (r02106);
  \draw[link] (r02106) -- (c00366);
  \draw[link] (r02106) -- (c00007a);
  \draw[link] (r02106) -- (c00001g);
  \draw[link] (c00366) -- (r02107);
  \draw[link] (c00027b) -- (r02107);
  \draw[link] (r02107) -- (c00007b);
  \draw[link] (r02107) -- (c00001h);
  \draw[link] (r02107) -- (c00385);
  \draw[link] (c00385) -- (r01768);
  \draw[link] (c00004) -- (r01768);
  \draw[link] (c00002a) -- (r01053);
  \draw[link] (r01053) -- (c00003s);
  \draw[link] (r01053) -- (c03090);
  \draw[link] (r01768) -- (c00003b);
  \draw[link] (c00117) -- (r01056);
  \draw[link] (r01056) -- (c00199);
  \draw[link] (c00199) -- (r07281);
  \draw[link] (r07281) -- (c15556);
  \draw[link] (c03090) -- (r01072);
  \draw[link] (c00262) -- (r01244);
  \draw[link] (r01072) -- (c00064);
  \draw[link] (r01244) -- (c00147);
  \draw[link] (c00119) -- (r00190);
  \draw[link] (c00147) -- (r00190);
  \draw[link] (r00190) -- (c00013);
  \draw[link] (r00190) -- (c00020);
  \draw[link] (c00020) -- (r01049);
  \draw[link] (r01049) -- (c00002b);
  \draw[link] (c00006) -- (r00134);
  \draw[link] (c00058) -- (r00212);
  \draw[link] (r00134) -- (c00005);
  \draw[link] (r00212) -- (c00022);
  \draw[link] (c00022) -- (r01196);
  \draw[link] (c00010) -- (r01196);
  \draw[link] (r01196) -- (c00024);
  \draw[link] (r01196) -- (c00011f);
  \draw[link] (r01196) -- (empty2);

  % Curved links
  \draw[link] (empty1) .. controls (2190,2970) and (2220,3015) .. (r01196);
  \draw[link] (r06064) .. controls (1030,1215) and (985,1245) .. (c00080a);
  \draw[link] (c00014d) .. controls (385,1920) and (440,1960) .. (r01053);
  \draw[link] (c00080c) .. controls (810,1940) and (920,1965) .. (r01768);
  \draw[link] (c00117) .. controls (1530,1905) and (1510,1918) .. (1480,1928) .. controls (1400,1942) and (1200,1962) .. (r01053);
  \draw[link] (r01053) .. controls (635,2045) and (670,2075) .. (c00009);
  \draw[link] (r01768) .. controls (1050,2030) and (1000,2065) .. (c00262);
  \draw[link] (r01768) .. controls (1280,2020) and (1350,2060) .. (c00001i);
  \draw[link] (r07281) .. controls (1800,2325) and (1960,2340) .. (2010,2378) .. controls (2040,2400) and (2055,2435) .. (c00058);
  \draw[link] (c00025) .. controls (170,2250) and (300,2290) .. (r01072);
  \draw[link] (c00014e) .. controls (870,2240) and (885,2270) .. (r01244);
  \draw[link] (r01072) .. controls (385,2365) and (350,2410) .. (c00001k);
  \draw[link] (r01072) .. controls (530,2345) and (620,2385) .. (c00119);
  \draw[link] (r01244) .. controls (985,2365) and (1015,2405) .. (c00001j);
  \draw[link] (c00119) .. controls (712,2680) and (705,2780) .. (717,2860) .. controls (730,2950) and (770,3040) .. (r01049);
  \draw[link] (c00013) .. controls (470,2750) and (432,2640) .. (420,2567) .. controls (405,2470) and (400,2400) .. (r01072);
  \draw[link] (r01049) .. controls (1180,3010) and (1370,2950) .. (1418,2836) .. controls (1450,2760) and (1460,2500) .. (1464,2260) .. controls (1467,2150) and (1480,2020) .. (1525,1950) -- (c00117);
  \draw[link] (c00058) .. controls (2030,2600) and (1990,2630) .. (r00134);
  \draw[link] (r00134) .. controls (1730,2695) and (1600,2750) .. (c00011e);
  \draw[link] (r00212) .. controls (2270,2700) and (2310,2715) .. (c00010);
  \draw[link] (c00024) .. controls (2085,3010) and (2080,2850) .. (2110,2750) .. controls (2125,2710) and (2135,2695) .. (r00212);
\end{tikzpicture}
\end{document}
